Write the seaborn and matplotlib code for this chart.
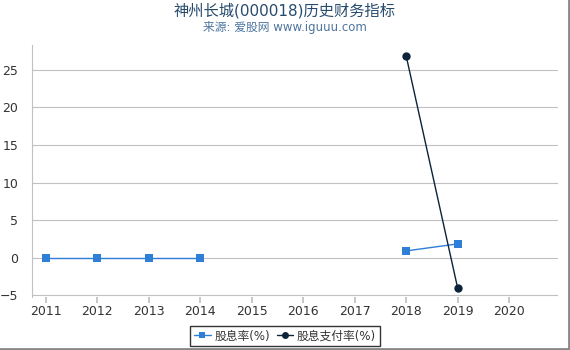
import matplotlib
matplotlib.use("Agg")
import matplotlib.pyplot as plt
import seaborn as sns
import pandas as pd
import numpy as np

years_div = [2011, 2012, 2013, 2014, 2018, 2019]
div_rate = [0.0, 0.0, 0.0, 0.0, 0.93, 1.86]
years_pay = [2018, 2019]
pay_rate = [26.85, -4.0]
xticks = list(range(2011, 2021))
yticks = [-5, 0, 5, 10, 15, 20, 25]

sns.set_theme(style="white")
plt.rcParams['font.family'] = ['DejaVu Sans', 'Noto Sans CJK SC']

fig = plt.figure(figsize=(5.7, 3.5), dpi=100)
ax = fig.add_axes([32/570, 1-297/350, (558-32)/570, (297-45)/350])

df1 = pd.DataFrame({"year": years_div, "val": div_rate})
df1["seg"] = [0, 0, 0, 0, 1, 1]
for s, g in df1.groupby("seg"):
    sns.lineplot(data=g, x="year", y="val", ax=ax, color="#2f7ed8", lw=1,
                 marker="s", markersize=6, markeredgewidth=0, legend=False)
df2 = pd.DataFrame({"year": years_pay, "val": pay_rate})
sns.lineplot(data=df2, x="year", y="val", ax=ax, color="#0d233a", lw=1,
             marker="o", markersize=6, markeredgewidth=0, legend=False)

ax.set_xlim(2010.73, 2020.95)
ax.set_ylim(-5.2, 28.3)
ax.set_xticks(xticks)
ax.set_yticks(yticks)
ax.set_xlabel("")
ax.set_ylabel("")
ax.grid(axis="y", color="#c0c0c0", lw=0.8)
for sp in ["top", "right", "bottom"]:
    ax.spines[sp].set_visible(False)
ax.spines["left"].set_color("#c0c0c0")
ax.spines["left"].set_linewidth(0.8)
ax.tick_params(axis="x", bottom=True, length=4, color="#c0c0c0", labelsize=9, labelcolor="#333333", pad=2)
ax.tick_params(axis="y", left=False, labelsize=9, labelcolor="#333333", pad=4)

fig.text(0.5, 1-11/350, "神州长城(000018)历史财务指标", ha="center", va="center", fontsize=11, color="#274b6d")
fig.text(0.5, 1-28/350, "来源: 爱股网 www.iguuu.com", ha="center", va="center", fontsize=8.5, color="#4d759e")

from matplotlib.lines import Line2D
h = [Line2D([], [], color="#2f7ed8", marker="s", markersize=5, lw=1, markeredgewidth=0),
     Line2D([], [], color="#0d233a", marker="o", markersize=5, lw=1, markeredgewidth=0)]
leg = fig.legend(h, ["股息率(%)", "股息支付率(%)"], loc="center", bbox_to_anchor=(285/570, 1-336/350),
                 ncol=2, frameon=True, fontsize=8.5, handlelength=1.4, handletextpad=0.3,
                 columnspacing=0.6, borderpad=0.3, fancybox=False)
leg.get_frame().set_edgecolor("black")
leg.get_frame().set_linewidth(1)
for t in leg.get_texts():
    t.set_color("#333333")

fig.add_artist(Line2D([1-1/570, 1-1/570], [0, 1], color="#888888", lw=2, transform=fig.transFigure))
fig.add_artist(Line2D([0, 1], [1/350, 1/350], color="#888888", lw=2, transform=fig.transFigure))

fig.savefig("out.png", dpi=100)
